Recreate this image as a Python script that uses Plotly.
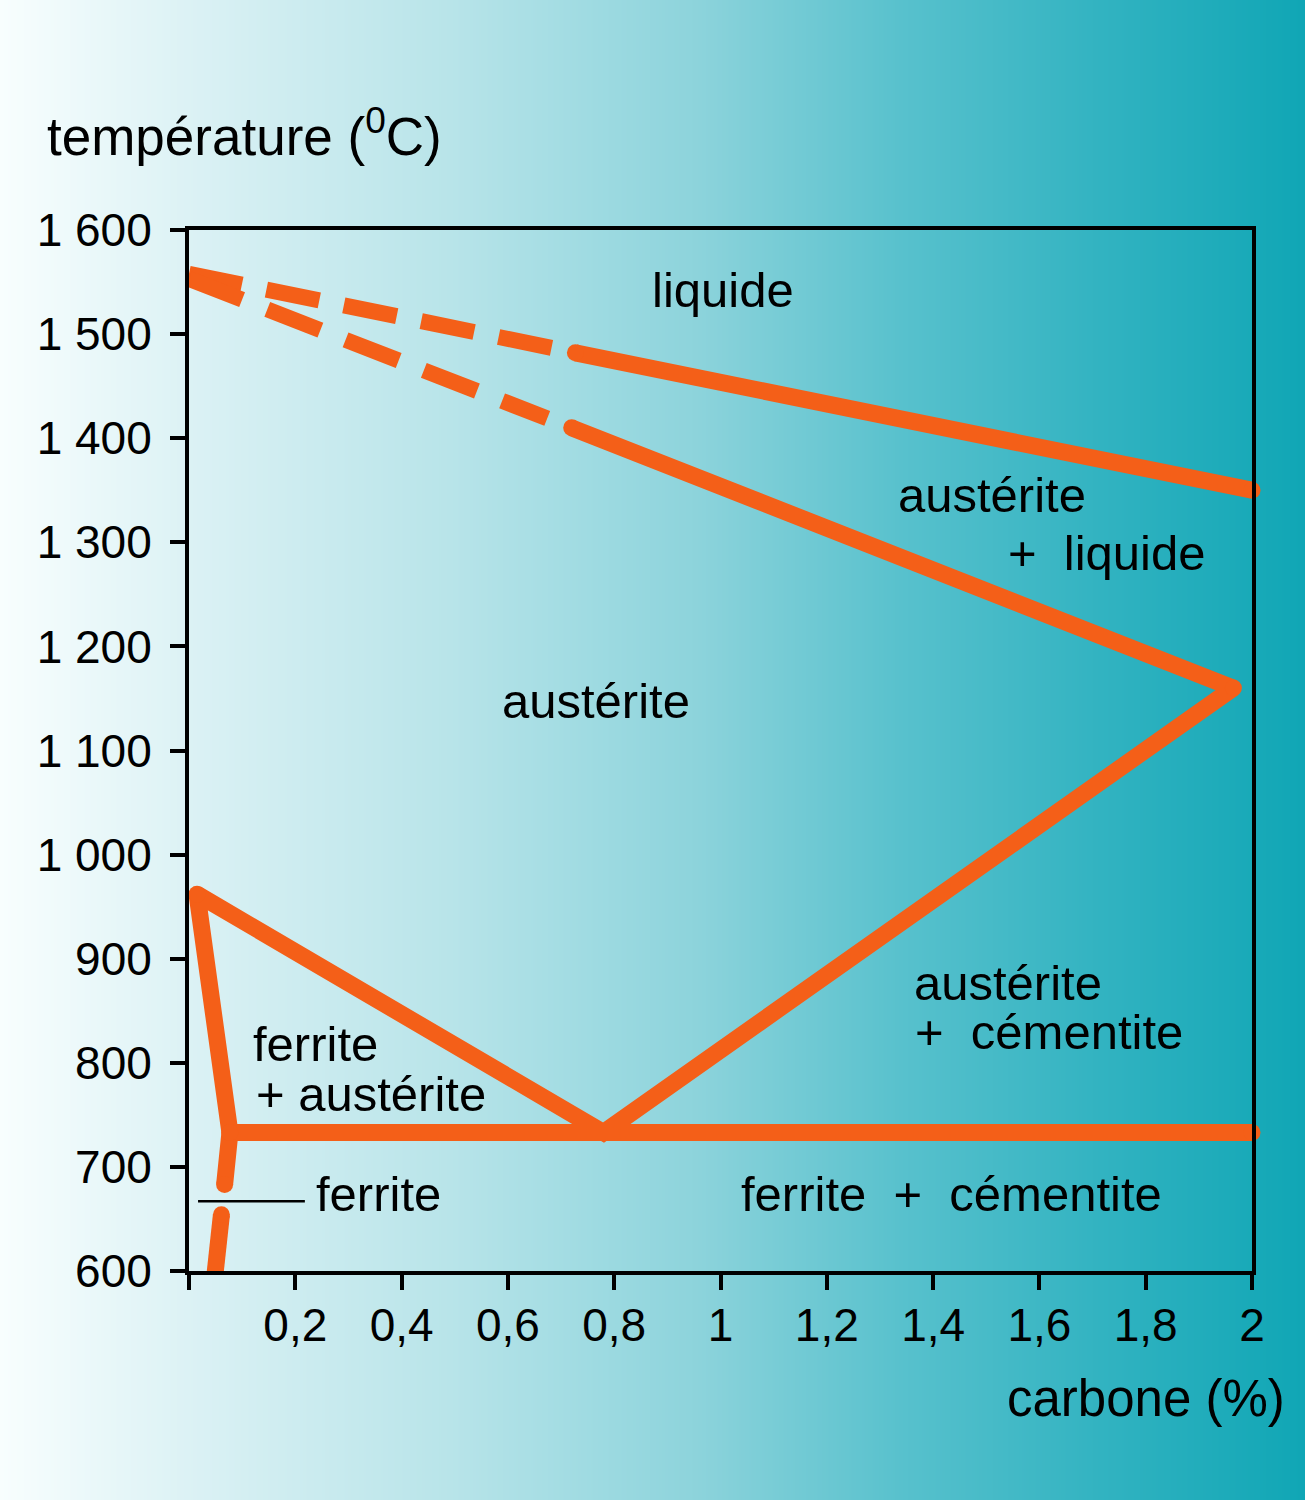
import base64
import struct
import zlib

import plotly.graph_objects as go

# ---- diagram data (carbon %, temperature degC) ----
# liquidus: dashed part near pure iron, then solid
liq_dash_x = [0, 0.69]
liq_dash_t = [1558, 1486]
liq_x = [0.727, 2]
liq_t = [1482, 1350]

# solidus: dashed part, then solid
sol_dash_x = [0, 0.674]
sol_dash_t = [1553, 1419]

# solidus -> eutectic point -> Acm -> eutectoid -> A3 -> ferrite solvus (upper part)
main_x = [0.72, 1.965, 0.78, 0.015, 0.077, 0.067]
main_t = [1410, 1160, 733, 962, 733, 683]

# ferrite solvus, lower part (below the label leader)
fer_x = [0.061, 0.047]
fer_t = [654, 588]

# eutectoid line
eut_x = [0.077, 2]
eut_t = [733, 733]

# ---- ticks ----
x_tickvals = [0, 0.2, 0.4, 0.6, 0.8, 1, 1.2, 1.4, 1.6, 1.8, 2]
x_ticktext = [" ", "0,2", "0,4", "0,6", "0,8", "1", "1,2", "1,4", "1,6", "1,8", "2"]
y_tickvals = [600, 700, 800, 900, 1000, 1100, 1200, 1300, 1400, 1500, 1600]
y_ticktext = ["600", "700", "800", "900", "1 000", "1 100", "1 200",
              "1 300", "1 400", "1 500", "1 600"]

ORANGE = "#f45f18"
LW = 17
FONT = "Liberation Sans, Arial, sans-serif"
NB = "\u00a0"


def gradient_png():
    # horizontal white -> teal background, as a tiny png stretched over the page
    stops = [
        (0, (248, 254, 254)),
        (200, (218, 241, 244)),
        (450, (184, 228, 233)),
        (600, (157, 218, 225)),
        (700, (140, 211, 219)),
        (900, (88, 193, 205)),
        (1100, (50, 179, 193)),
        (1305, (16, 166, 181)),
    ]
    w = 1305
    row = bytearray()
    for px in range(w):
        for i in range(len(stops) - 1):
            a, ca = stops[i]
            b, cb = stops[i + 1]
            if a <= px <= b:
                f = (px - a) / (b - a)
                row += bytes(int(round(ca[k] + (cb[k] - ca[k]) * f)) for k in range(3))
                break
    raw = (b"\x00" + bytes(row)) * 2

    def chunk(tag, data):
        return (struct.pack(">I", len(data)) + tag + data
                + struct.pack(">I", zlib.crc32(tag + data) & 0xffffffff))

    png = (b"\x89PNG\r\n\x1a\n"
           + chunk(b"IHDR", struct.pack(">IIBBBBB", w, 2, 8, 2, 0, 0, 0))
           + chunk(b"IDAT", zlib.compress(raw, 9))
           + chunk(b"IEND", b""))
    return "data:image/png;base64," + base64.b64encode(png).decode()


fig = go.Figure()

# dashed parts (butt ends); the steeper one gets longer dashes so they line up in x
for xs, ts, dash in [(liq_dash_x, liq_dash_t, "54px,25px"),
                     (sol_dash_x, sol_dash_t, "57px,27px")]:
    fig.add_trace(go.Scatter(
        x=xs, y=ts, mode="lines",
        line=dict(color=ORANGE, width=LW - 1, dash=dash),
        hoverinfo="skip", showlegend=False,
    ))

# solid parts, markers give round caps / joins
for xs, ts in [(liq_x, liq_t), (main_x, main_t), (fer_x, fer_t), (eut_x, eut_t)]:
    fig.add_trace(go.Scatter(
        x=xs, y=ts, mode="lines+markers",
        line=dict(color=ORANGE, width=LW),
        marker=dict(color=ORANGE, size=LW, line=dict(width=0)),
        cliponaxis=False, hoverinfo="skip", showlegend=False,
    ))

labels = [
    ("liquide", 1.005, 1542, "center"),
    ("austérite", 1.331, 1345, "left"),
    ("+" + NB * 2 + "liquide", 1.537, 1290, "left"),
    ("austérite", 0.586, 1148, "left"),
    ("austérite", 1.360, 877, "left"),
    ("+" + NB * 2 + "cémentite", 1.363, 830, "left"),
    ("ferrite", 0.117, 818, "left"),
    ("+ austérite", 0.122, 770, "left"),
    ("ferrite", 0.235, 674, "left"),
    ("ferrite" + NB * 2 + "+" + NB * 2 + "cémentite", 1.034, 674, "left"),
]
for txt, x, y, anchor in labels:
    fig.add_annotation(x=x, y=y, xref="x", yref="y", text=txt, showarrow=False,
                       xanchor=anchor, yanchor="middle",
                       font=dict(size=49, color="black", family=FONT))

# leader line for the small "ferrite" region
fig.add_shape(type="line", xref="x", yref="y", x0=0.017, x1=0.218, y0=667, y1=667,
              line=dict(color="black", width=2.5))

# axis titles
fig.add_annotation(x=-0.1355, y=1.094, xref="paper", yref="paper",
                   text="température (<sup>0</sup>C)", showarrow=False,
                   xanchor="left", yanchor="middle",
                   font=dict(size=53, color="black", family=FONT))
fig.add_annotation(x=0.7676, y=-0.122, xref="paper", yref="paper",
                   text="carbone (%)", showarrow=False,
                   xanchor="left", yanchor="middle",
                   font=dict(size=51, color="black", family=FONT))

axis_style = dict(
    showline=True, linecolor="black", linewidth=4, mirror=True,
    ticks="outside", ticklen=15, tickwidth=4, tickcolor="black",
    showgrid=False, zeroline=False,
    tickfont=dict(size=46, color="black", family=FONT),
)

fig.update_layout(
    width=1305, height=1500,
    margin=dict(l=189, r=53, t=230, b=229),
    paper_bgcolor="white",
    plot_bgcolor="rgba(0,0,0,0)",
    xaxis=dict(range=[0, 2], tickmode="array", tickvals=x_tickvals,
               ticktext=x_ticktext, ticklabelstandoff=-4, **axis_style),
    yaxis=dict(range=[600, 1600], tickmode="array", tickvals=y_tickvals,
               ticktext=y_ticktext, ticklabelstandoff=9, **axis_style),
    images=[dict(source=gradient_png(), xref="paper", yref="paper",
                 x=-189 / 1063, y=1271 / 1041, sizex=1305 / 1063, sizey=1500 / 1041,
                 xanchor="left", yanchor="top", sizing="stretch", layer="below")],
)

fig.write_html("out.html", config={"displayModeBar": False},
               post_script="document.body.style.margin = '0';")
